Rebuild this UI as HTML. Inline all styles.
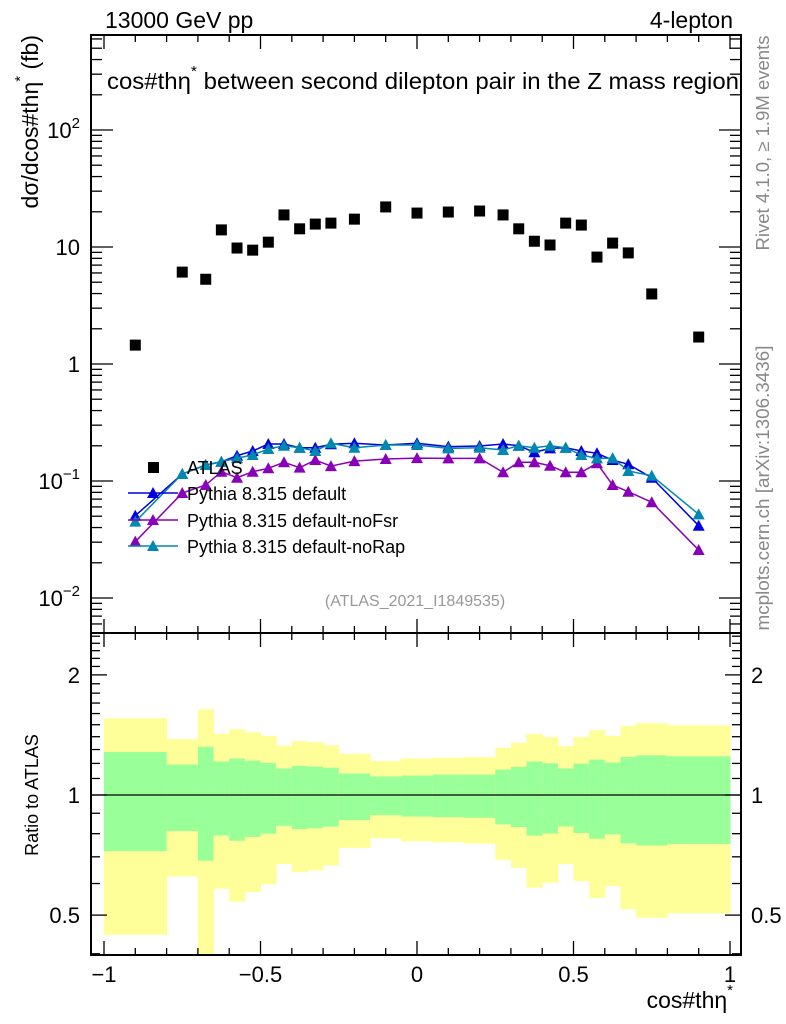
<!DOCTYPE html>
<html><head><meta charset="utf-8"><style>
body{margin:0;background:#fff}
svg{display:block;font-family:"Liberation Sans",sans-serif}
</style></head><body>
<svg id="c" width="786" height="1024" viewBox="0 0 786 1024" xmlns="http://www.w3.org/2000/svg">
<text x="105" y="28" font-size="23">13000 GeV pp</text>
<text x="733" y="28" font-size="23" text-anchor="end">4-lepton</text>
<text x="107" y="89" font-size="23" textLength="632" lengthAdjust="spacingAndGlyphs">cos#thη<tspan dy="-13" font-size="15">*</tspan><tspan dy="13"> between second dilepton pair in the Z mass region</tspan></text>
<text transform="translate(38,35) rotate(-90)" font-size="23" text-anchor="end">dσ/dcos#thη<tspan dy="-13" font-size="15">*</tspan><tspan dy="13"> (fb)</tspan></text>
<text transform="translate(38,795) rotate(-90)" font-size="18" text-anchor="middle">Ratio to ATLAS</text>
<text transform="translate(769,143) rotate(-90)" font-size="18" fill="#888" text-anchor="middle" textLength="215" lengthAdjust="spacingAndGlyphs">Rivet 4.1.0, ≥ 1.9M events</text>
<text transform="translate(769,488) rotate(-90)" font-size="18" fill="#888" text-anchor="middle" textLength="285" lengthAdjust="spacingAndGlyphs">mcplots.cern.ch [arXiv:1306.3436]</text>
<text x="415" y="606" font-size="16" fill="#999" text-anchor="middle">(ATLAS_2021_I1849535)</text>
<text x="733" y="1008" font-size="23" text-anchor="end">cos#thη<tspan dy="-13" font-size="15">*</tspan></text>
<g id="g"></g>
</svg>
<script>
const binLo=[-1,-0.8,-0.7,-0.65,-0.6,-0.55,-0.5,-0.45,-0.4,-0.35,-0.3,-0.25,-0.15,-0.05,0.05,0.15,0.25,0.3,0.35,0.4,0.45,0.5,0.55,0.6,0.65,0.7,0.8];
const binHi=[-0.8,-0.7,-0.65,-0.6,-0.55,-0.5,-0.45,-0.4,-0.35,-0.3,-0.25,-0.15,-0.05,0.05,0.15,0.25,0.3,0.35,0.4,0.45,0.5,0.55,0.6,0.65,0.7,0.8,1.0];
const atlas=[1.45,6.1,5.3,14.0,9.8,9.4,11.0,18.8,14.3,15.7,16.0,17.3,22.0,19.5,19.9,20.3,18.8,14.3,11.2,10.4,16.0,15.4,8.2,10.8,8.9,3.97,1.70];
const pyDefault=[0.0505,0.1148,0.137,0.146,0.1645,0.1805,0.207,0.207,0.1926,0.1926,0.206,0.210,0.203,0.210,0.1965,0.199,0.207,0.2003,0.176,0.190,0.1926,0.1805,0.1725,0.151,0.139,0.1067,0.0415];
const pyNoFsr=[0.0303,0.0789,0.0924,0.120,0.1067,0.120,0.1284,0.1445,0.130,0.151,0.134,0.148,0.154,0.157,0.156,0.156,0.1187,0.1445,0.1445,0.135,0.1187,0.1187,0.1417,0.0924,0.081,0.0658,0.0257];
const pyNoRap=[0.0449,0.1148,0.137,0.146,0.157,0.1668,0.1877,0.2003,0.1926,0.1805,0.210,0.1926,0.203,0.203,0.190,0.1926,0.184,0.2003,0.1926,0.2003,0.1926,0.1668,0.156,0.157,0.1218,0.111,0.0519];
const yelUp=[1.557,1.381,1.640,1.423,1.462,1.437,1.407,1.329,1.365,1.357,1.334,1.269,1.217,1.236,1.241,1.245,1.314,1.352,1.423,1.397,1.326,1.397,1.454,1.407,1.488,1.513,1.496];
const grnUp=[1.282,1.192,1.321,1.213,1.234,1.220,1.204,1.165,1.183,1.178,1.170,1.132,1.113,1.119,1.124,1.124,1.158,1.176,1.213,1.201,1.165,1.199,1.227,1.206,1.245,1.257,1.250];
const grnLo=[0.723,0.812,0.684,0.791,0.768,0.785,0.800,0.837,0.821,0.825,0.833,0.865,0.890,0.883,0.880,0.877,0.844,0.831,0.791,0.800,0.834,0.803,0.777,0.797,0.757,0.747,0.754];
const yelLo=[0.446,0.625,0.35,0.582,0.540,0.571,0.597,0.671,0.641,0.647,0.666,0.737,0.779,0.765,0.761,0.755,0.688,0.657,0.586,0.603,0.671,0.608,0.552,0.591,0.517,0.492,0.505];
const xTickLabels=["−1","−0.5","0","0.5","1"];
const xTickVals=[-1,-0.5,0,0.5,1];

const L=91,R=741,T=35,MB=633,RB=955;
const X=v=>104+(v+1)*313;
const Y=v=>364-117*Math.log10(v);
const YR=v=>795-399*Math.log10(v);
const NS="http://www.w3.org/2000/svg";
const g=document.getElementById('g');
function mk(tag,at,parent){const e=document.createElementNS(NS,tag);for(const k in at)e.setAttribute(k,at[k]);(parent||g).appendChild(e);return e;}

const bands=mk('g',{});


for(let i=0;i<binLo.length;i++){
  const x0=X(binLo[i]),x1=X(binHi[i]);
  const yt=Math.max(YR(yelUp[i]),MB),yb=Math.min(YR(yelLo[i]),RB);
  const r1=mk('rect',{x:x0,y:yt,width:x1-x0+0.5,height:yb-yt,fill:'#ffff99'},bands);
  
  
  const r2=mk('rect',{x:x0,y:YR(grnUp[i]),width:x1-x0+0.5,height:YR(grnLo[i])-YR(grnUp[i]),fill:'#99ff99'},bands);
  
  
}
const one=mk('line',{x1:L,x2:R,y1:YR(1),y2:YR(1),stroke:'#000','stroke-width':1.3});



const f1=mk('rect',{x:L,y:T,width:R-L,height:MB-T,fill:'none',stroke:'#000','stroke-width':2});


const f2=mk('rect',{x:L,y:MB,width:R-L,height:RB-MB,fill:'none',stroke:'#000','stroke-width':2});



const tk=mk('g',{stroke:'#000','stroke-width':1.3});


for(let k=-10;k<=10;k++){
  const v=k/10,x=X(v),maj=(k%5===0),l=maj?14:7;
  mk('line',{x1:x,x2:x,y1:T,y2:T+l},tk);
  mk('line',{x1:x,x2:x,y1:MB,y2:MB-l},tk);
  mk('line',{x1:x,x2:x,y1:MB,y2:MB+l},tk);
  mk('line',{x1:x,x2:x,y1:RB,y2:RB-l},tk);
}
for(let e=-3;e<=2;e++){for(let m=1;m<10;m++){
  const v=m*Math.pow(10,e),y=Y(v);if(y<T||y>MB)continue;const l=m===1?22:11;
  mk('line',{x1:L,x2:L+l,y1:y,y2:y},tk);mk('line',{x1:R,x2:R-l,y1:y,y2:y},tk);
}}
for(let k=4;k<=25;k++){
  const v=k/10,y=YR(v);if(y<MB||y>RB)continue;const maj=(k===5||k===10||k===20),l=maj?16:9;
  mk('line',{x1:L,x2:L+l,y1:y,y2:y},tk);mk('line',{x1:R,x2:R-l,y1:y,y2:y},tk);
}
xTickVals.forEach((v,i)=>{const t=mk('text',{x:X(v),y:982,'font-size':22,'text-anchor':'middle'});t.textContent=xTickLabels[i];

});
[[2,"10","2"],[1,"10",""],[0,"1",""],[-1,"10","−1"],[-2,"10","−2"]].forEach(a=>{
  const t=mk('text',{x:80,y:Y(Math.pow(10,a[0]))+8,'font-size':22,'text-anchor':'end'});
  if(a[2]){t.textContent=a[1];const s=mk('tspan',{dy:-10,'font-size':15},t);s.textContent=a[2];t.setAttribute('x',a[2].length>1?80:80);}else t.textContent=a[1];
  
  
});
[[2,"2"],[1,"1"],[0.5,"0.5"]].forEach(a=>{
  const t=mk('text',{x:80,y:YR(a[0])+8,'font-size':22,'text-anchor':'end'});t.textContent=a[1];
  
  
  const t2=mk('text',{x:751,y:YR(a[0])+8,'font-size':22});t2.textContent=a[1];
  
  
});

const cent=binLo.map((l,i)=>(l+binHi[i])/2);
function tri(x,y,c,p){return mk('polygon',{points:`${x},${y-6} ${x-6},${y+5} ${x+6},${y+5}`,fill:c},p);}
[[pyNoFsr,'#8a00b8','series-noFsr'],[pyDefault,'#0000e0','series-default'],[pyNoRap,'#0088b0','series-noRap']].forEach(s=>{
  const grp=mk('g',{});
  
  
  mk('polyline',{points:s[0].map((v,i)=>X(cent[i])+','+Y(v)).join(' '),fill:'none',stroke:s[1],'stroke-width':1.5},grp);
  s[0].forEach((v,i)=>{const p=tri(X(cent[i]),Y(v),s[1],grp);
    
    });
});
const dg=mk('g',{});


atlas.forEach((v,i)=>{const r=mk('rect',{x:X(cent[i])-5.5,y:Y(v)-5.5,width:11,height:11,fill:'#000'},dg);
  
  });

const lg=mk('g',{'font-size':18});


mk('rect',{x:148,y:462,width:11,height:11,fill:'#000'},lg);
const lt=mk('text',{x:187,y:474},lg);lt.textContent='ATLAS';
[['Pythia 8.315 default','#0000e0',493],['Pythia 8.315 default-noFsr','#8a00b8',520],['Pythia 8.315 default-noRap','#0088b0',546]].forEach(a=>{
  const e=mk('g',{},lg);
  
  
  mk('line',{x1:128,x2:178,y1:a[2],y2:a[2],stroke:a[1],'stroke-width':1.5},e);
  tri(153,a[2],a[1],e);
  const t=mk('text',{x:187,y:a[2]+7},e);t.textContent=a[0];
});
</script>
</body></html>
